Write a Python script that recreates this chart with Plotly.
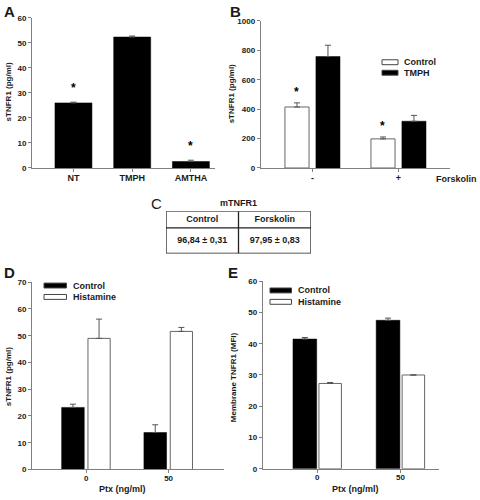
import plotly.graph_objects as go

# ---------------- data ----------------
a_categories = ["NT", "TMPH", "AMTHA"]
a_values = [26.0, 52.3, 2.6]
a_errors = [0.3, 0.4, 0.5]
a_star = [True, False, True]

b_categories = ["-", "+"]
b_control = [415, 198]
b_control_err = [28, 13]
b_tmph = [758, 318]
b_tmph_err = [77, 40]
b_star = [True, True]

table_title = "mTNFR1"
table_header = ["Control", "Forskolin"]
table_values = ["96,84 ± 0,31", "97,95 ± 0,83"]

d_categories = ["0", "50"]
d_control = [23.2, 13.8]
d_control_err = [1.2, 2.9]
d_histamine = [49.0, 51.6]
d_histamine_err = [7.2, 1.5]

e_categories = ["0", "50"]
e_control = [41.5, 47.5]
e_control_err = [0.5, 0.7]
e_histamine = [27.3, 30.0]
e_histamine_err = [0.3, 0.0]

# ---------------- helpers ----------------
W, H = 480, 500
def px(x):
    return x / W
def py(y):
    return 1 - y / H

FONT = "Liberation Sans, Arial, sans-serif"
AX = "#808080"
TXT = "#1a1a1a"

fig = go.Figure()

def err(vals):
    return dict(type="data", array=vals, arrayminus=[0] * len(vals), symmetric=False,
                color="#555555", thickness=1, width=3)

# Panel A
fig.add_trace(go.Bar(x=a_categories, y=a_values, error_y=err(a_errors),
                     marker=dict(color="black", line=dict(color="black", width=0.5)),
                     width=0.63, xaxis="x", yaxis="y"))
# Panel B
fig.add_trace(go.Bar(x=b_categories, y=b_control, error_y=err(b_control_err), name="Control",
                     marker=dict(color="white", line=dict(color="#666666", width=1)),
                     width=0.28, offset=-0.32, xaxis="x2", yaxis="y2"))
fig.add_trace(go.Bar(x=b_categories, y=b_tmph, error_y=err(b_tmph_err), name="TMPH",
                     marker=dict(color="black", line=dict(color="black", width=0.5)),
                     width=0.28, offset=0.04, xaxis="x2", yaxis="y2"))
# Panel D
fig.add_trace(go.Bar(x=d_categories, y=d_control, error_y=err(d_control_err), name="Control",
                     marker=dict(color="black", line=dict(color="black", width=0.5)),
                     width=0.275, offset=-0.30, xaxis="x3", yaxis="y3"))
fig.add_trace(go.Bar(x=d_categories, y=d_histamine, error_y=err(d_histamine_err), name="Histamine",
                     marker=dict(color="white", line=dict(color="#666666", width=1)),
                     width=0.27, offset=0.02, xaxis="x3", yaxis="y3"))
# Panel E
fig.add_trace(go.Bar(x=e_categories, y=e_control, error_y=err(e_control_err), name="Control",
                     marker=dict(color="black", line=dict(color="black", width=0.5)),
                     width=0.285, offset=-0.292, xaxis="x4", yaxis="y4"))
fig.add_trace(go.Bar(x=e_categories, y=e_histamine, error_y=err(e_histamine_err), name="Histamine",
                     marker=dict(color="white", line=dict(color="#666666", width=1)),
                     width=0.27, offset=0.02, xaxis="x4", yaxis="y4"))

# Panel C table: drawn on its own hidden axis pair (columns 0..2, rows in a 0..43 scale)
n_cols = len(table_header)
header_row = (26, 43)
value_row = (0, 26)
col_centers = [i + 0.5 for i in range(n_cols)]
fig.add_trace(go.Scatter(x=col_centers, y=[sum(header_row) / 2] * n_cols, mode="text",
                         text=table_header, textposition="middle center",
                         textfont=dict(family=FONT, size=9, color=TXT, weight="bold"),
                         hoverinfo="skip", xaxis="x5", yaxis="y5"))
fig.add_trace(go.Scatter(x=col_centers, y=[sum(value_row) / 2] * n_cols, mode="text",
                         text=table_values, textposition="middle center",
                         textfont=dict(family=FONT, size=9, color=TXT, weight="bold"),
                         hoverinfo="skip", xaxis="x5", yaxis="y5"))

tickfont = dict(family=FONT, size=8, color=TXT, weight="bold")
def xa(domain, rng, size=8):
    return dict(domain=domain, range=rng, type="category", showline=True, linecolor=AX,
                linewidth=1, ticks="outside", ticklen=3, tickcolor=AX, showgrid=False,
                zeroline=False, tickfont=tickfont | dict(size=size), fixedrange=True,
                ticklabelstandoff=-2)
def ya(domain, rng, dtick, anchor):
    return dict(domain=domain, range=rng, dtick=dtick, showline=True, linecolor=AX,
                linewidth=1, ticks="outside", ticklen=3, tickcolor=AX, showgrid=False,
                zeroline=False, tickfont=tickfont, anchor=anchor, fixedrange=True)
hidden = dict(visible=False, showgrid=False, zeroline=False, fixedrange=True)

layout = dict(
    width=W, height=H, margin=dict(l=0, r=0, t=0, b=0),
    paper_bgcolor="white", plot_bgcolor="white", showlegend=False,
    barmode="group",
    xaxis=xa([px(32), px(215)], [-0.706, 2.41], size=9) | dict(anchor="y"),
    yaxis=ya([py(167), py(14)], [0, 60], 10, "x"),
    xaxis2=xa([px(260.7), px(450)], [-0.602, 1.599], size=9) | dict(anchor="y2"),
    yaxis2=ya([py(167), py(17.3)], [0, 1000], 200, "x2"),
    xaxis3=xa([px(32), px(224)], [-0.66, 1.673]) | dict(anchor="y3"),
    yaxis3=ya([py(474), py(283.3)], [0, 70], 10, "x3"),
    xaxis4=xa([px(262.7), px(439)], [-0.656, 1.463]) | dict(anchor="y4"),
    yaxis4=ya([py(473.3), py(282.3)], [0, 60], 10, "x4"),
    xaxis5=hidden | dict(domain=[px(166), px(311)], range=[0, n_cols], anchor="y5"),
    yaxis5=hidden | dict(domain=[py(254), py(211)], range=[0, header_row[1]], anchor="x5"),
)
fig.update_layout(**layout)

ann = []
def label(text, x, y, size=8, angle=0, xanchor="center", weight="bold"):
    ann.append(dict(text=text, x=px(x), y=py(y), xref="paper", yref="paper", showarrow=False,
                    textangle=angle, xanchor=xanchor, yanchor="middle",
                    font=dict(family=FONT, size=size, color=TXT, weight=weight)))

# panel letters
label("A", 9, 8, size=15)
label("B", 235, 8, size=15)
label("C", 156, 203, size=15, weight="normal")
label("D", 9, 273, size=15)
label("E", 233, 273, size=15)

# axis titles
label("sTNFR1 (pg/ml)", 8, 90, angle=-90)
label("sTNFR1 (pg/ml)", 231, 92, angle=-90)
label("sTNFR1 (pg/ml)", 8, 380, angle=-90)
label("Membrane TNFR1 (MFI)", 233, 380, angle=-90)
label("Forskolin", 479, 178, size=9, xanchor="right")
label("Ptx (ng/ml)", 123, 494, size=9)
label("Ptx (ng/ml)", 355, 494, size=9)
label(table_title, 238, 203, size=9)

# asterisks
for c, v, e, s in zip(a_categories, a_values, a_errors, a_star):
    if s:
        ann.append(dict(text="*", x=c, y=v + e, xref="x", yref="y", showarrow=False,
                        yshift=14, font=dict(family=FONT, size=12, color="black", weight="bold")))
for i, (c, v, e, s) in enumerate(zip(b_categories, b_control, b_control_err, b_star)):
    if s:
        ann.append(dict(text="*", x=c, y=v + e, xref="x2", yref="y2", showarrow=False,
                        yshift=11, xshift=-15.5, font=dict(family=FONT, size=12, color="black", weight="bold")))

shapes = []
# table grid, in table-axis units
tline = dict(color="#222222", width=1.3)
shapes.append(dict(type="rect", xref="x5", yref="y5", x0=0, x1=n_cols, y0=0, y1=header_row[1],
                   line=tline, fillcolor="rgba(0,0,0,0)"))
for i in range(1, n_cols):
    shapes.append(dict(type="line", xref="x5", yref="y5", x0=i, x1=i, y0=0, y1=header_row[1], line=tline))
shapes.append(dict(type="line", xref="x5", yref="y5", x0=0, x1=n_cols, y0=header_row[0], y1=header_row[0], line=tline))

# legends (swatch + text)
def legend_item(x0, x1, y, fill, text):
    shapes.append(dict(type="rect", xref="paper", yref="paper", x0=px(x0), x1=px(x1),
                       y0=py(y + 2.5), y1=py(y - 2.5), fillcolor=fill,
                       line=dict(color="#444444", width=1)))
    label(text, x1 + 4, y, size=9, xanchor="left")

legend_item(382, 398, 59.3, "white", "Control")
legend_item(382, 398, 70, "black", "TMPH")
legend_item(44, 66.5, 286.7, "black", "Control")
legend_item(44, 66.5, 298.3, "white", "Histamine")
legend_item(270, 291.5, 291.7, "black", "Control")
legend_item(270, 291.5, 303.3, "white", "Histamine")

fig.update_layout(annotations=ann, shapes=shapes)
fig.write_html("out.html", config={"displayModeBar": False},
               post_script="document.body.style.margin='0';document.body.style.padding='0';")
